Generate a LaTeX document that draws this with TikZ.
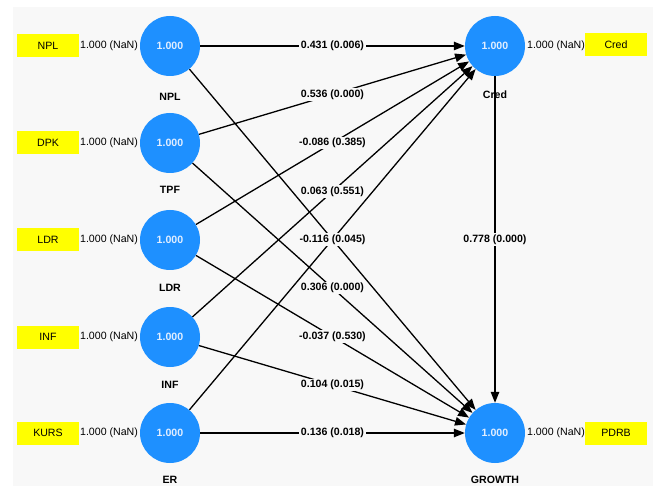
\documentclass[tikz,border=0pt]{standalone}
\usepackage{fontspec}
\setmainfont{Liberation Sans}
\usetikzlibrary{arrows.meta}

\definecolor{bgpanel}{RGB}{248,248,248}
\definecolor{lvblue}{RGB}{30,144,255}
\definecolor{lvtext}{RGB}{225,238,255}
\definecolor{indyellow}{RGB}{255,255,0}

\tikzset{
  latent/.style={circle, fill=lvblue, minimum size=60pt, inner sep=0pt,
    text=lvtext, font=\fontsize{10.6}{12}\selectfont\bfseries},
  indicator/.style={rectangle, fill=indyellow, minimum width=62pt,
    minimum height=23pt, inner sep=0pt, font=\fontsize{10.6}{12}\selectfont},
  loading/.style={inner sep=0pt, font=\fontsize{10.6}{12}\selectfont},
  lvname/.style={inner sep=0pt, font=\fontsize{10.6}{12}\selectfont\bfseries},
  coef/.style={fill=bgpanel, inner sep=1.5pt, font=\fontsize{10.6}{12}\selectfont\bfseries},
  path/.style={line width=1.3pt, -{Triangle[length=11pt,width=8.5pt]}}
}

\begin{document}
\begin{tikzpicture}[x=1pt, y=-1pt]

% Border and preliminaries
\useasboundingbox (0,0) rectangle (653,486);
\fill [white] (0,0) rectangle (653,486);
\fill [bgpanel] (13,7) rectangle (653,486);

%%%%%%%%%%%%%%%%%%%%%% EXOGENOUS %%%%%%%%%%%%%%%%%%%%%%

% NPL
\node [indicator] (indNPL) at (48,46) {NPL};
\node [loading] (ldNPL) at (109,46) {1.000 (NaN)};
\node [latent] (npl) at (170,46) {1.000};
    \node [lvname] (nplName) at (170,97) {NPL};

% TPF
\node [indicator] (indDPK) at (48,143) {DPK};
\node [loading] (ldDPK) at (109,143) {1.000 (NaN)};
\node [latent] (tpf) at (170,143) {1.000};
    \node [lvname] (tpfName) at (170,190) {TPF};

% LDR
\node [indicator] (indLDR) at (48,240) {LDR};
\node [loading] (ldLDR) at (109,240) {1.000 (NaN)};
\node [latent] (ldr) at (170,240) {1.000};
    \node [lvname] (ldrName) at (170,288) {LDR};

% INF
\node [indicator] (indINF) at (48,337) {INF};
\node [loading] (ldINF) at (109,337) {1.000 (NaN)};
\node [latent] (inf) at (170,337) {1.000};
    \node [lvname] (infName) at (170,385) {INF};

% ER
\node [indicator] (indKURS) at (48,433) {KURS};
\node [loading] (ldKURS) at (109,433) {1.000 (NaN)};
\node [latent] (er) at (170,433) {1.000};
    \node [lvname] (erName) at (170,480) {ER};

%%%%%%%%%%%%%%%%%%%%%% ENDOGENOUS %%%%%%%%%%%%%%%%%%%%%%

% Cred
\node [latent] (cred) at (495,46) {1.000};
    \node [lvname] (credName) at (495,95) {Cred};
\node [loading] (ldCred) at (556,46) {1.000 (NaN)};
\node [indicator] (indCred) at (616,45) {Cred};

% GROWTH
\node [latent] (growth) at (495,433) {1.000};
    \node [lvname] (growthName) at (495,480) {GROWTH};
\node [loading] (ldPDRB) at (556,433) {1.000 (NaN)};
\node [indicator] (indPDRB) at (616,433) {PDRB};

%%%%%%%%%%%%%%%%%%%%%% PATHS %%%%%%%%%%%%%%%%%%%%%%

% Into Cred
\draw [path] (npl) -- node [coef] {0.431 (0.006)} (cred);
\draw [path] (tpf) -- node [coef] {0.536 (0.000)} (cred);
\draw [path] (ldr) -- node [coef] {-0.086 (0.385)} (cred);
\draw [path] (inf) -- node [coef] {0.063 (0.551)} (cred);
\draw [path] (er) -- (cred);

% Into GROWTH
\draw [path] (npl) -- node [coef] {-0.116 (0.045)} (growth);
\draw [path] (tpf) -- node [coef] {0.306 (0.000)} (growth);
\draw [path] (ldr) -- node [coef] {-0.037 (0.530)} (growth);
\draw [path] (inf) -- node [coef] {0.104 (0.015)} (growth);
\draw [path] (er) -- node [coef] {0.136 (0.018)} (growth);

\draw [path] (cred) -- node [coef] {0.778 (0.000)} (growth);

\end{tikzpicture}
\end{document}
